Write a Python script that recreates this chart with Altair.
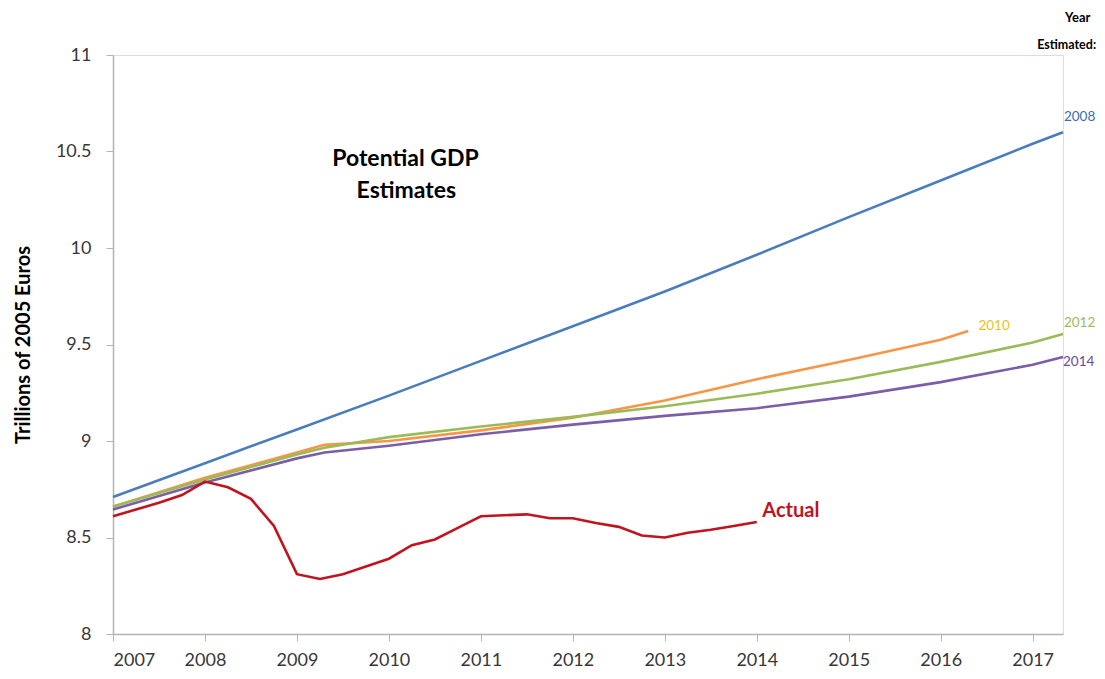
import altair as alt
import pandas as pd

# ---- data ----
years_full = [2007, 2008, 2009, 2010, 2011, 2012, 2013, 2014, 2015, 2016, 2017, 2017.33]
est2008 = [8.71, 8.885, 9.06, 9.235, 9.415, 9.595, 9.775, 9.965, 10.16, 10.35, 10.54, 10.60]

years_2010 = [2007, 2008, 2009, 2009.3, 2010, 2011, 2012, 2013, 2014, 2015, 2016, 2016.3]
est2010 = [8.66, 8.81, 8.94, 8.98, 9.00, 9.055, 9.12, 9.21, 9.32, 9.42, 9.525, 9.57]

years_late = [2007, 2008, 2009, 2009.3, 2010, 2011, 2012, 2013, 2014, 2015, 2016, 2017, 2017.33]
est2012 = [8.66, 8.80, 8.93, 8.965, 9.02, 9.075, 9.125, 9.18, 9.245, 9.32, 9.41, 9.51, 9.555]
est2014 = [8.645, 8.785, 8.91, 8.94, 8.975, 9.035, 9.085, 9.13, 9.17, 9.23, 9.305, 9.395, 9.435]

quarters = [2007 + 0.25 * i for i in range(29)]
actual = [8.61, 8.645, 8.68, 8.72, 8.79, 8.76, 8.70, 8.56, 8.31, 8.285, 8.31, 8.35,
          8.39, 8.46, 8.49, 8.55, 8.61, 8.615, 8.62, 8.60, 8.60, 8.575, 8.555, 8.51,
          8.50, 8.525, 8.54, 8.56, 8.58]

series_names = ["2008", "2010", "2012", "2014", "Actual"]
series_colors = ["#4a7ebb", "#f79646", "#9bbb59", "#7b5ea7", "#c0141e"]

rows = []
for name, xs, ys in [("2008", years_full, est2008), ("2010", years_2010, est2010),
                     ("2012", years_late, est2012), ("2014", years_late, est2014),
                     ("Actual", quarters, actual)]:
    for i, (x, y) in enumerate(zip(xs, ys)):
        rows.append({"series": name, "year": x, "value": y, "order": i})
df = pd.DataFrame(rows)

FONT = "Lato"

x_scale = alt.Scale(domain=[2007, 2017.33], nice=False, zero=False)
y_scale = alt.Scale(domain=[8, 11], nice=False, zero=False)

lines = alt.Chart(df).mark_line(strokeWidth=2.6).encode(
    x=alt.X("year:Q", scale=x_scale,
            axis=alt.Axis(values=list(range(2007, 2018)), format="d", title=None,
                          grid=False, domainColor="#b4b4b4", domainWidth=1.5,
                          tickColor="#b4b4b4", tickSize=7, labelPadding=10,
                          labelFontSize=18, labelColor="#383838", labelFont=FONT)),
    y=alt.Y("value:Q", scale=y_scale,
            axis=alt.Axis(values=[8, 8.5, 9, 9.5, 10, 10.5, 11], format="~g",
                          title="Trillions of 2005 Euros", grid=False,
                          domainColor="#b4b4b4", domainWidth=1.5,
                          tickColor="#b4b4b4", tickSize=7, labelPadding=15,
                          labelFontSize=18, labelColor="#383838", labelFont=FONT,
                          titleFont=FONT, titleFontSize=20, titleFontWeight="bold",
                          titleColor="#000000", titleX=-80)),
    color=alt.Color("series:N", scale=alt.Scale(domain=series_names, range=series_colors),
                    legend=None),
    order="order:Q",
    detail="series:N",
)


def txt(text, x, y, color="#000000", size=13, weight="bold", align="left"):
    return alt.Chart().mark_text(text=text, color=color, fontSize=size, fontWeight=weight,
                                 font=FONT, align=align, baseline="middle").encode(
        x=alt.datum(x, scale=x_scale), y=alt.datum(y, scale=y_scale))


annotations = [
    txt("Potential GDP", 2010.18, 10.46, size=23, align="center"),
    txt("Estimates", 2010.19, 10.295, size=23, align="center"),
    txt("Actual", 2014.06, 8.635, color="#c0141e", size=20),
    txt("Year", 2017.49, 11.19, size=13, align="center"),
    txt("Estimated:", 2017.69, 11.05, size=12.5, align="right"),
    txt("2008", 2017.34, 10.68, color="#3b6db0", size=13.5, weight="normal"),
    txt("2010", 2016.41, 9.596, color="#e8c21a", size=13.5, weight="normal"),
    txt("2012", 2017.34, 9.611, color="#9bbb59", size=13.5, weight="normal"),
    txt("2014", 2017.33, 9.409, color="#6a4a9a", size=13.5, weight="normal"),
]

chart = alt.layer(lines, *annotations).properties(
    width=950, height=579,
    autosize=alt.AutoSizeParams(type="none"),
    padding={"left": 105, "top": 47, "right": 34, "bottom": 37},
).configure_view(stroke=None).configure(background="#ffffff")

chart.save("out.html", embed_options={"renderer": "svg", "actions": False})
